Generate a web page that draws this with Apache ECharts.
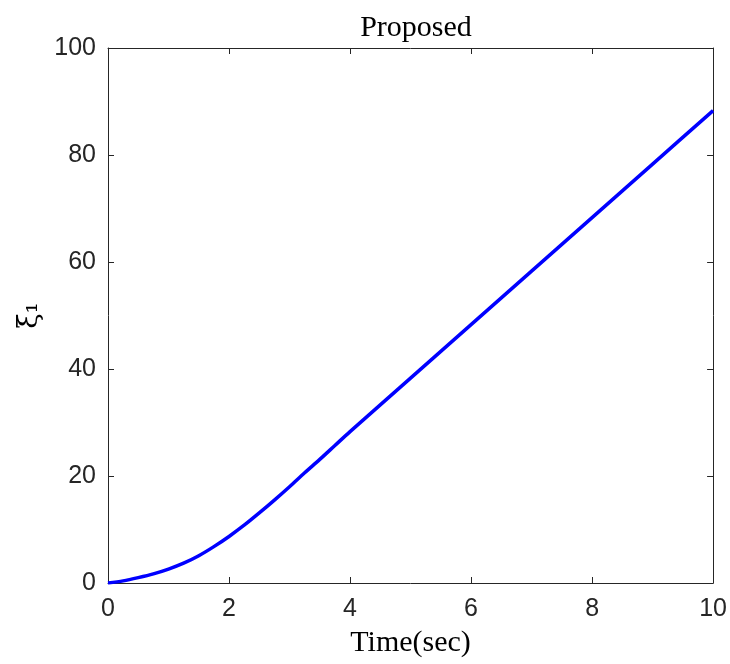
<!DOCTYPE html>
<html><head><meta charset="utf-8">
<script src="https://cdn.jsdelivr.net/npm/echarts@6/dist/echarts.min.js"></script>
<style>html,body{margin:0;padding:0;background:#fff}#c{width:730px;height:664px}</style>
</head><body><div id="c"></div>
<script>
const timeVals = [0,0.25,0.5,0.75,1.0,1.25,1.5,1.75,2.0,2.25,2.5,2.75,3.0,3.25,3.5,3.75,4,5,6,7,8,9,10];
const xiVals   = [0,0.4,1.0,1.7,2.6,3.7,5.1,6.8,8.7,10.8,13.1,15.5,18.0,20.6,23.1,25.7,28.3,38.3,48.3,58.3,68.3,78.3,88.3];
const xTicks = [0,2,4,6,8,10];
const yTicks = [0,20,40,60,80,100];
const titleText = 'Proposed';
const xName = 'Time(sec)';
const yName = 'ξ₁';

const data = timeVals.map((t,i)=>[t, xiVals[i]]);
const axisCol = '#262626';
const chart = echarts.init(document.getElementById('c'));
const baseAxis = {
  axisLine:{show:true, onZero:false, lineStyle:{color:axisCol, width:1}},
  axisTick:{show:true, inside:true, length:6, lineStyle:{color:axisCol}},
  splitLine:{show:false}
};
chart.setOption({
  animation:false,
  title:{text:titleText, left:411, textAlign:'center', top:8,
    textStyle:{fontFamily:'Liberation Serif', fontWeight:'normal', fontSize:30, color:'#000'}},
  grid:{left:108, right:15, top:48, bottom:81},
  xAxis:[
    Object.assign({}, baseAxis, {type:'value', min:0, max:10, interval:2, position:'bottom',
      axisLabel:{color:axisCol, fontSize:25, fontFamily:'Liberation Sans', margin:14},
      name:xName, nameLocation:'middle', nameGap:45,
      nameTextStyle:{fontFamily:'Liberation Serif', fontSize:30, color:'#000'}}),
    Object.assign({}, baseAxis, {type:'value', min:0, max:10, interval:2, position:'top',
      axisLabel:{show:false}})
  ],
  yAxis:[
    Object.assign({}, baseAxis, {type:'value', min:0, max:100, interval:20, position:'left',
      axisLabel:{color:axisCol, fontSize:25, fontFamily:'Liberation Sans', margin:12},
      name:yName, nameLocation:'middle', nameGap:64, nameRotate:90,
      nameTextStyle:{fontFamily:'DejaVu Serif', fontSize:28, color:'#000'}}),
    Object.assign({}, baseAxis, {type:'value', min:0, max:100, interval:20, position:'right',
      axisLabel:{show:false}})
  ],
  series:[{type:'line', data:data, smooth:0.3, showSymbol:false,
    lineStyle:{color:'#0000ff', width:3.5}, xAxisIndex:0, yAxisIndex:0}]
});
</script></body></html>
